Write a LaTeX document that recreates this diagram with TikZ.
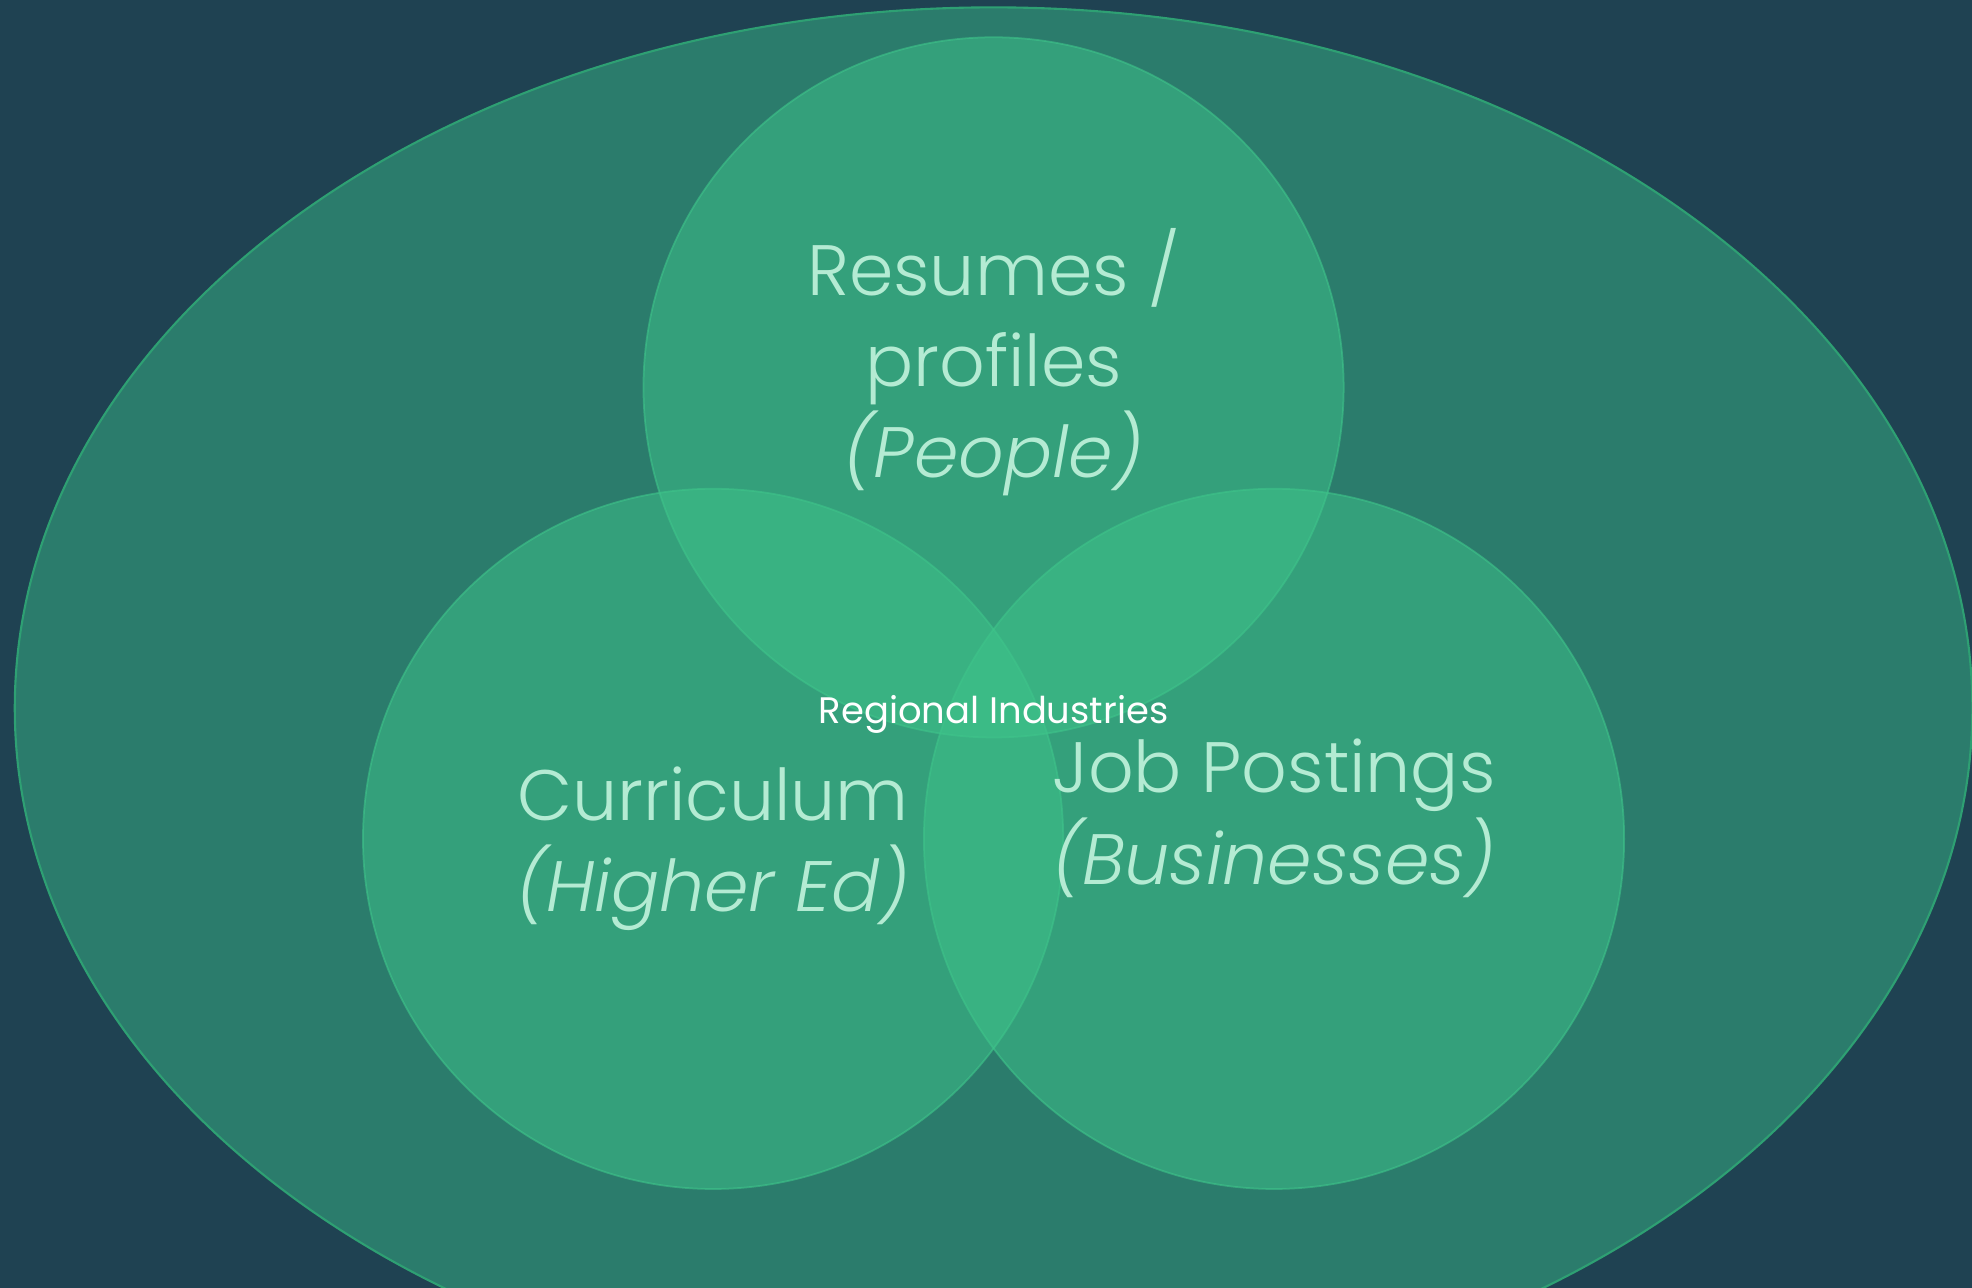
\documentclass[tikz,border=0pt]{standalone}
\usepackage{fontspec}
\setmainfont{Poppins}[UprightFont=* Light, ItalicFont=* Light Italic]
\newfontfamily\regionfont{Poppins}
\usetikzlibrary{shapes.geometric}

\definecolor{bgnavy}{RGB}{31,66,82}
\definecolor{regionteal}{RGB}{43,124,108}
\definecolor{regionedge}{RGB}{46,160,115}
\definecolor{vennfill}{RGB}{62,196,138}
\definecolor{labelmint}{RGB}{180,235,211}

\tikzset{
  venn/.style={circle, minimum size=7.0cm, inner sep=0pt,
    fill=vennfill, fill opacity=0.5, draw=vennfill, draw opacity=0.6, line width=0.5pt},
  vennlabel/.style={text=labelmint, align=center, anchor=base,
    font=\fontsize{20.3}{26}\selectfont}
}

\begin{document}
\begin{tikzpicture}[x=0.012577cm, y=-0.012577cm]
    % Background
    \useasboundingbox (0,0) rectangle (1568,1024);
    \clip (0,0) rectangle (1568,1024);
    \fill[bgnavy] (0,0) rectangle (1568,1024);
    % Regional industries
    \node[ellipse, minimum width=19.57cm, minimum height=14.01cm, inner sep=0pt,
        fill=regionteal, draw=regionedge, line width=0.6pt] (Region) at (790,563) {};
    % Circles
    \foreach \name/\x/\y in {People/790/308,HigherEd/567/667,Business/1013/667} {
        \node[venn] (Circle-\name) at (\x,\y) {};
    }
    % Labels (base = last line)
    \node[vennlabel] (Label-People) at (790,380)
        {Resumes /\\profiles\\\textit{(People)}};
    \node[vennlabel] (Label-HigherEd) at (567,725)
        {Curriculum\\\textit{(Higher Ed)}};
    \node[vennlabel] (Label-Business) at (1013,703)
        {Job Postings\\\textit{(Businesses)}};
    \node[text=white, font=\regionfont\fontsize{10.5}{12}\selectfont, anchor=base]
        (Label-Region) at (790,575) {Regional Industries};
\end{tikzpicture}
\end{document}
